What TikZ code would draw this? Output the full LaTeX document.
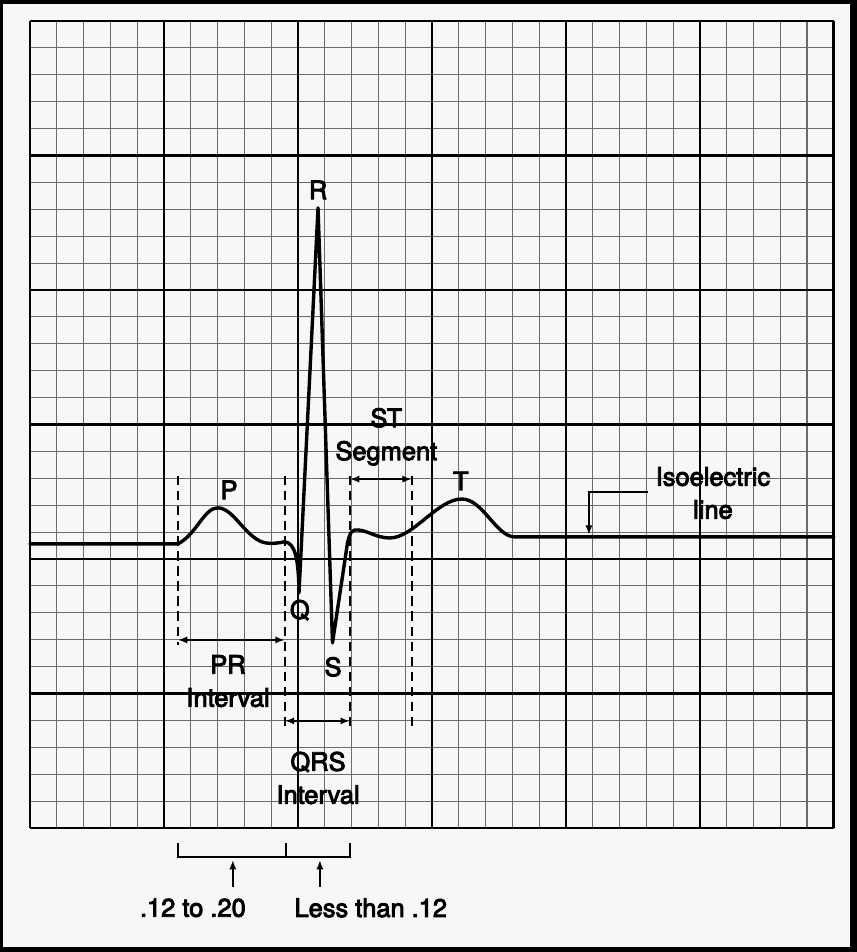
\documentclass[tikz,border=0pt]{standalone}
\usepackage{fontspec}
\setmainfont{TeX Gyre Heros}
\newfontfamily\lblfont[FakeBold=3.5]{TeX Gyre Heros}
\usetikzlibrary{arrows.meta, backgrounds, positioning}

\begin{document}
\begin{tikzpicture}[
            x=0.5cm, y=0.502cm,
            minor/.style={draw=black!58, line width=0.55pt},
            major/.style={draw=black, line width=1.4pt},
            trace/.style={line width=1.8pt, line join=round, line cap=round},
            marker/.style={dash pattern=on 5pt off 3pt, line width=1pt},
            span/.style={{Latex[length=5pt,width=3.8pt]}-{Latex[length=5pt,width=3.8pt]}, line width=1pt},
            pointer/.style={-{Latex[length=5pt,width=3.8pt]}, line width=0.9pt},
            bracket/.style={line width=1.2pt},
            lbl/.style={inner sep=0pt, align=center, font=\lblfont\fontsize{13.5}{17.5}\selectfont}
        ]

        % page with its dark scan frame
        \useasboundingbox (-1.12,-4.61) rectangle (30.86,30.78);
        \fill[black] (-1.12,-4.61) rectangle (30.86,30.78);
        \fill[black!3] (-1.01,-4.44) rectangle (30.60,30.63);

        % ECG paper: 1 unit = one small square
        \draw[minor] (0,0) grid[step=1] (30,30);
        \draw[major] (0,0) grid[step=5] (30,30);

        % the tracing
        \draw[trace] (0,10.56) -- (5.52,10.56)
            .. controls (6.2,10.9) and (6.5,11.9) .. (7.0,11.9)
            .. controls (7.6,11.9) and (8.0,10.85) .. (8.7,10.62)
            .. controls (9.0,10.54) and (9.3,10.6) .. (9.5,10.64)
            .. controls (9.9,10.6) and (10.02,10.0) .. (10.04,8.74)
            -- (10.75,23.05) -- (11.29,6.88) -- (11.85,10.6)
            .. controls (11.95,11.05) and (12.05,11.1) .. (12.25,11.08)
            .. controls (12.6,11.05) and (12.9,10.8) .. (13.4,10.78)
            .. controls (14.3,10.76) and (15.2,12.23) .. (16.12,12.23)
            .. controls (16.9,12.23) and (17.4,10.82) .. (18.1,10.82)
            -- (30,10.82);

        % wave names
        \node[lbl] (p) at (7.43,12.57) {P};
        \node[lbl] (q) at (10.07,8.10) {Q};
        \node[lbl] (r) at (10.75,23.72) {R};
        \node[lbl] (s) at (11.31,5.99) {S};
        \node[lbl] (t) at (16.08,12.90) {T};

        % dashed markers
        \coordinate (m1t) at (5.52,13.09);
        \coordinate (m1b) at (5.52,6.80);
        \coordinate (m2t) at (9.51,13.09);
        \coordinate (m2b) at (9.51,3.75);
        \coordinate (m3t) at (11.94,13.09);
        \coordinate (m3b) at (11.94,3.75);
        \coordinate (m4t) at (14.25,13.09);
        \coordinate (m4b) at (14.25,3.75);
        \draw[marker] (m1t) -- (m1b);
        \draw[marker] (m2t) -- (m2b);
        \draw[marker] (m3t) -- (m3b);
        \draw[marker] (m4t) -- (m4b);

        % interval spans
        \coordinate (prl) at (5.52,6.99);
        \coordinate (prr) at (9.51,6.99);
        \coordinate (qrsl) at (9.51,3.98);
        \coordinate (qrsr) at (11.94,3.98);
        \coordinate (stl) at (11.94,12.97);
        \coordinate (str) at (14.25,12.97);
        \draw[span] (prl) -- (prr);
        \draw[span] (qrsl) -- (qrsr);
        \draw[span] (stl) -- (str);

        \node[lbl] (pr) at (7.39,5.46) {PR\\Interval};
        \node[lbl] (qrs) at (10.75,1.86) {QRS\\Interval};
        \node[lbl] (st) at (13.30,14.54) {ST\\Segment};

        % isoelectric line
        \node[lbl] (iso) at (25.49,12.45) {Isoelectric\\line};
        \coordinate (isoa) at (23.06,12.49);
        \coordinate (isob) at (20.86,12.49);
        \coordinate (isoc) at (20.86,10.90);
        \draw[pointer] (isoa) -- (isob) -- (isoc);

        % durations below the paper
        \coordinate (b1) at (5.52,-1.08);
        \coordinate (b2) at (9.55,-1.08);
        \coordinate (b3) at (11.94,-1.08);
        \draw[bracket] (5.52,-0.56) -- (b1) -- (b3) -- (11.94,-0.56);
        \draw[bracket] (b2) -- (9.55,-0.56);

        \node[lbl] (prt) at (6.08,-2.97) {.12 to .20};
        \node[lbl] (qrst) at (12.72,-2.97) {Less than .12};
        \coordinate (a1) at (7.57,-2.19);
        \coordinate (a2) at (7.57,-1.19);
        \coordinate (a3) at (10.82,-2.19);
        \coordinate (a4) at (10.82,-1.19);
        \draw[pointer] (a1) -- (a2);
        \draw[pointer] (a3) -- (a4);

    \end{tikzpicture}
\end{document}
